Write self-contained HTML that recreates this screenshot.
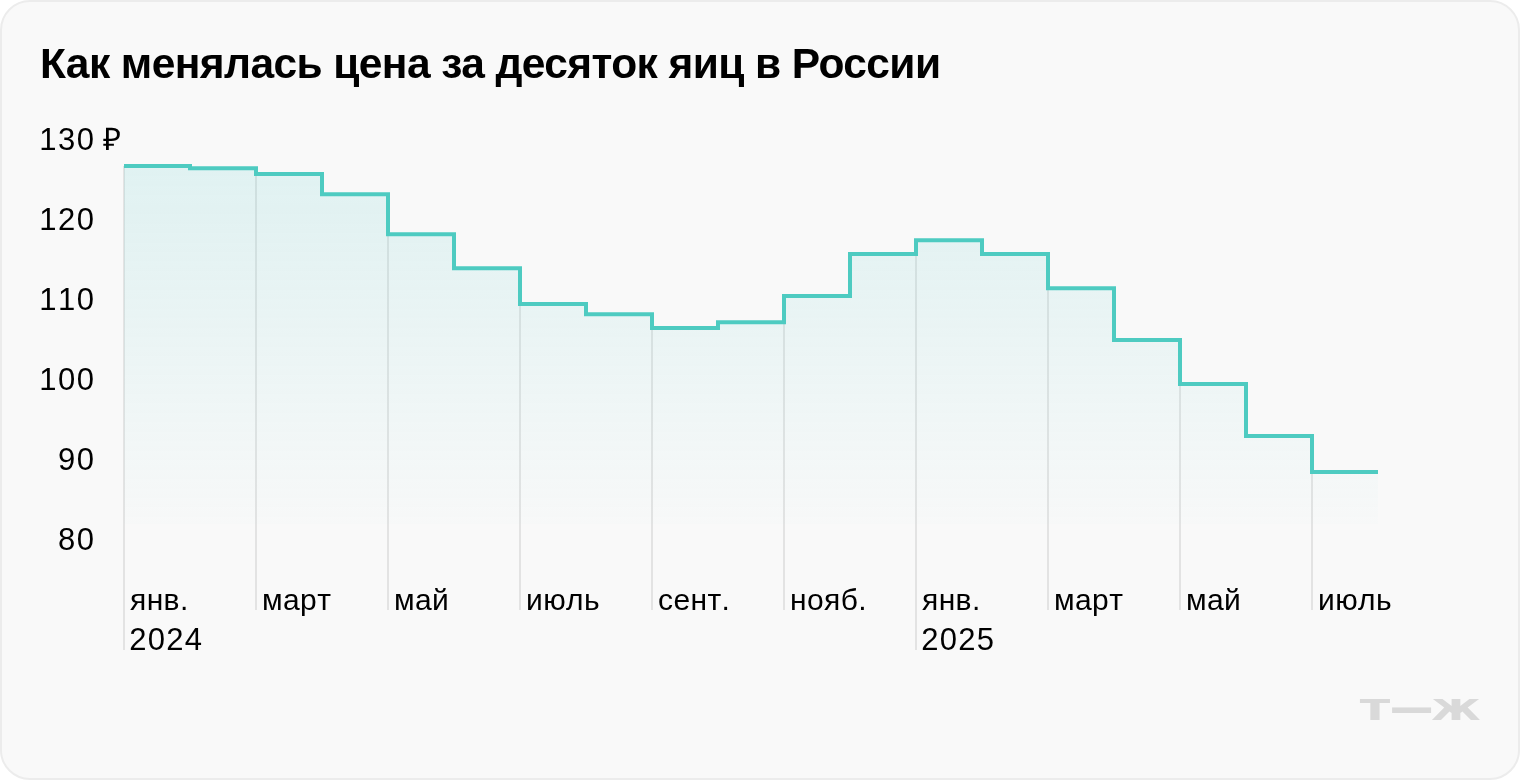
<!DOCTYPE html>
<html lang="ru"><head><meta charset="utf-8">
<style>
html,body{margin:0;padding:0;background:#fff;}
body{width:1520px;height:780px;position:relative;overflow:hidden;font-family:"Liberation Sans",sans-serif;}
.card{position:absolute;left:0;top:0;width:1516px;height:776px;border:2px solid #ececec;border-radius:30px;background:#f9f9f9;}
svg{position:absolute;left:0;top:0;will-change:transform;}
svg text{font-family:"Liberation Sans",sans-serif;}
.t{font-weight:bold;font-size:42.5px;fill:#000;letter-spacing:-0.59px;}
.lb text{font-size:31px;fill:#000;font-kerning:none;}
.lb .yn{text-anchor:end;letter-spacing:1.5px;}
.lb .mo{font-size:30px;letter-spacing:0.4px;}
.logo text{font-family:"DejaVu Sans","Liberation Sans",sans-serif;font-weight:bold;fill:#d9d9d9;}
</style></head><body>
<div class="card"></div>
<svg width="1520" height="780" viewBox="0 0 1520 780">
<defs><linearGradient id="g" gradientUnits="userSpaceOnUse" x1="0" y1="164" x2="0" y2="550">
<stop offset="0" stop-color="#5ccccc" stop-opacity="0.16"/><stop offset="1" stop-color="#5ccccc" stop-opacity="0"/></linearGradient></defs>
<text class="t" x="40" y="78">Как менялась цена за десяток яиц в России</text>
<g stroke="#e3e3e3" stroke-width="2">
<line x1="124" y1="166.1" x2="124" y2="650"/>
<line x1="256" y1="174.1" x2="256" y2="610"/>
<line x1="388" y1="234.2" x2="388" y2="610"/>
<line x1="520" y1="304.1" x2="520" y2="610"/>
<line x1="652" y1="327.9" x2="652" y2="610"/>
<line x1="784" y1="322.3" x2="784" y2="610"/>
<line x1="916" y1="254.1" x2="916" y2="650"/>
<line x1="1048" y1="288.2" x2="1048" y2="610"/>
<line x1="1180" y1="384.0" x2="1180" y2="610"/>
<line x1="1312" y1="472.0" x2="1312" y2="610"/>
</g>
<path d="M124,166.1 H190 V168.2 H256 V174.1 H322 V194.2 H388 V234.2 H454 V268.3 H520 V304.1 H586 V314.2 H652 V327.9 H718 V322.3 H784 V296.1 H850 V254.1 H916 V240.2 H982 V254.1 H1048 V288.2 H1114 V340.0 H1180 V384.0 H1246 V436.1 H1312 V472.0 H1378 V524 H124 Z" fill="url(#g)"/>
<path d="M124,166.1 H190 V168.2 H256 V174.1 H322 V194.2 H388 V234.2 H454 V268.3 H520 V304.1 H586 V314.2 H652 V327.9 H718 V322.3 H784 V296.1 H850 V254.1 H916 V240.2 H982 V254.1 H1048 V288.2 H1114 V340.0 H1180 V384.0 H1246 V436.1 H1312 V472.0 H1378" fill="none" stroke="#4ecbc1" stroke-width="4" stroke-linejoin="miter"/>
<g class="lb">
<text class="yn" x="95.5" y="150">130</text>
<text class="yn" x="95.5" y="230">120</text>
<text class="yn" x="95.5" y="310">110</text>
<text class="yn" x="95.5" y="390">100</text>
<text class="yn" x="95.5" y="470">90</text>
<text class="yn" x="95.5" y="550">80</text>
<text x="102.5" y="150">₽</text>
<text class="mo" x="130" y="610">янв.</text>
<text class="mo" x="262" y="610">март</text>
<text class="mo" x="394" y="610">май</text>
<text class="mo" x="526" y="610">июль</text>
<text class="mo" x="658" y="610">сент.</text>
<text class="mo" x="790" y="610">нояб.</text>
<text class="mo" x="922" y="610">янв.</text>
<text class="mo" x="1054" y="610">март</text>
<text class="mo" x="1186" y="610">май</text>
<text class="mo" x="1318" y="610">июль</text>
<text style="letter-spacing:1.3px" x="129.2" y="650">2024</text>
<text style="letter-spacing:1.3px" x="921.2" y="650">2025</text>
</g>
<g class="logo"><text transform="translate(1359.79,720) scale(1.436,1)" style="font-size:36.57px">т</text><text transform="translate(1389.65,721.98) scale(0.983,1)" style="font-size:44.45px">—</text><text transform="translate(1431.27,720) scale(1.359,1)" style="font-size:36.57px">ж</text></g>
</svg>
</body></html>
